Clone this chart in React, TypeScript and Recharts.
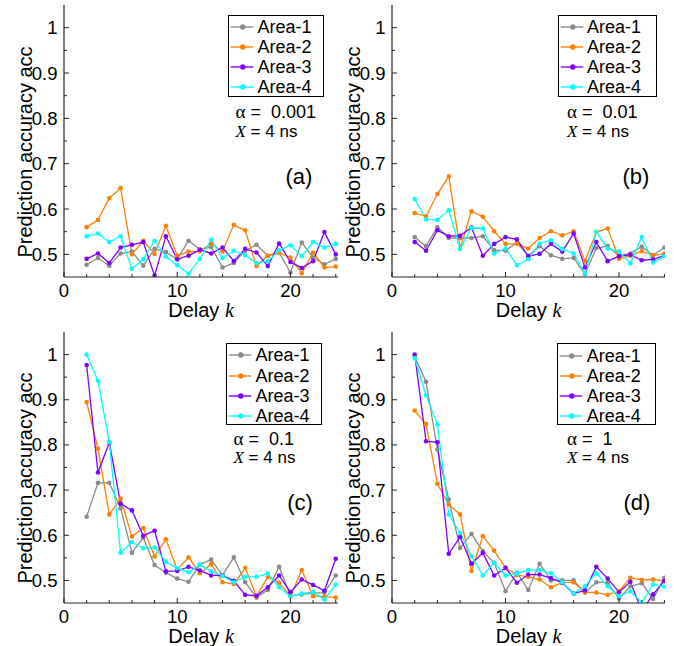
import React from 'react';
import { LineChart, Line, XAxis, YAxis, Legend } from 'recharts';

const delays = [2, 3, 4, 5, 6, 7, 8, 9, 10, 11, 12, 13, 14, 15, 16, 17, 18, 19, 20, 21, 22, 23, 24];
const seriesNames = ['Area-1', 'Area-2', 'Area-3', 'Area-4'];
const seriesColors = ['#8a8a8a', '#ff8000', '#8000ff', '#00ffff'];
const xTicks = [0, 2, 4, 6, 8, 10, 12, 14, 16, 18, 20, 22, 24];
const yTicks = [0.5, 0.55, 0.6, 0.65, 0.7, 0.75, 0.8, 0.85, 0.9, 0.95, 1.0];

// (a) alpha = 0.001
const a_area1 = [0.477, 0.492, 0.475, 0.502, 0.506, 0.475, 0.512, 0.505, 0.489, 0.530, 0.511, 0.516, 0.471, 0.481, 0.508, 0.521, 0.497, 0.504, 0.460, 0.526, 0.493, 0.478, 0.490];
const a_area2 = [0.560, 0.576, 0.624, 0.646, 0.500, 0.530, 0.501, 0.563, 0.497, 0.506, 0.507, 0.524, 0.506, 0.565, 0.553, 0.474, 0.497, 0.503, 0.493, 0.458, 0.504, 0.471, 0.473];
const a_area3 = [0.490, 0.502, 0.481, 0.515, 0.521, 0.527, 0.453, 0.540, 0.489, 0.497, 0.510, 0.502, 0.515, 0.485, 0.512, 0.504, 0.474, 0.524, 0.483, 0.470, 0.485, 0.549, 0.500];
const a_area4 = [0.540, 0.546, 0.527, 0.540, 0.468, 0.489, 0.530, 0.495, 0.476, 0.457, 0.490, 0.532, 0.492, 0.508, 0.498, 0.481, 0.485, 0.509, 0.520, 0.496, 0.527, 0.515, 0.523];

// (b) alpha = 0.01
const b_area1 = [0.538, 0.518, 0.560, 0.536, 0.536, 0.536, 0.540, 0.509, 0.508, 0.526, 0.497, 0.518, 0.498, 0.490, 0.492, 0.456, 0.514, 0.518, 0.497, 0.502, 0.517, 0.498, 0.515];
const b_area2 = [0.591, 0.584, 0.633, 0.672, 0.513, 0.595, 0.583, 0.551, 0.523, 0.523, 0.513, 0.536, 0.551, 0.542, 0.551, 0.485, 0.549, 0.557, 0.490, 0.497, 0.507, 0.498, 0.501];
const b_area3 = [0.527, 0.508, 0.553, 0.540, 0.541, 0.559, 0.497, 0.523, 0.538, 0.533, 0.496, 0.501, 0.523, 0.506, 0.546, 0.471, 0.527, 0.485, 0.496, 0.499, 0.487, 0.489, 0.497];
const b_area4 = [0.622, 0.577, 0.576, 0.597, 0.512, 0.558, 0.557, 0.502, 0.513, 0.476, 0.489, 0.524, 0.531, 0.512, 0.502, 0.458, 0.549, 0.513, 0.506, 0.480, 0.538, 0.482, 0.496];

// (c) alpha = 0.1
const c_area1 = [0.641, 0.716, 0.716, 0.660, 0.561, 0.595, 0.534, 0.517, 0.504, 0.497, 0.535, 0.546, 0.511, 0.551, 0.496, 0.462, 0.479, 0.530, 0.466, 0.469, 0.472, 0.473, 0.511];
const c_area2 = [0.895, 0.792, 0.646, 0.681, 0.597, 0.616, 0.553, 0.591, 0.524, 0.551, 0.516, 0.536, 0.496, 0.492, 0.528, 0.465, 0.508, 0.495, 0.465, 0.523, 0.465, 0.464, 0.462];
const c_area3 = [0.977, 0.739, 0.805, 0.670, 0.655, 0.599, 0.610, 0.520, 0.521, 0.530, 0.522, 0.511, 0.511, 0.499, 0.468, 0.466, 0.485, 0.511, 0.474, 0.502, 0.490, 0.477, 0.548];
const c_area4 = [1.000, 0.942, 0.806, 0.561, 0.585, 0.571, 0.573, 0.541, 0.527, 0.518, 0.535, 0.520, 0.510, 0.496, 0.508, 0.508, 0.515, 0.485, 0.465, 0.471, 0.474, 0.458, 0.491];

// (d) alpha = 1
const d_area1 = [0.995, 0.940, 0.790, 0.679, 0.572, 0.603, 0.565, 0.539, 0.476, 0.517, 0.479, 0.537, 0.500, 0.500, 0.500, 0.473, 0.496, 0.495, 0.460, 0.487, 0.494, 0.459, 0.506];
const d_area2 = [0.876, 0.846, 0.714, 0.668, 0.646, 0.521, 0.598, 0.566, 0.528, 0.512, 0.508, 0.502, 0.485, 0.495, 0.496, 0.474, 0.473, 0.468, 0.476, 0.506, 0.501, 0.502, 0.499];
const d_area3 = [1.000, 0.808, 0.806, 0.559, 0.596, 0.537, 0.561, 0.511, 0.528, 0.495, 0.513, 0.513, 0.505, 0.495, 0.471, 0.478, 0.530, 0.504, 0.474, 0.497, 0.432, 0.469, 0.499];
const d_area4 = [0.992, 0.910, 0.845, 0.646, 0.605, 0.554, 0.511, 0.539, 0.511, 0.515, 0.523, 0.523, 0.516, 0.496, 0.471, 0.487, 0.516, 0.487, 0.465, 0.476, 0.451, 0.491, 0.486];

const panelLabels = ['(a)', '(b)', '(c)', '(d)'];
const alphaValues = ['0.001', '0.01', '0.1', '1'];

const SANS = '"Liberation Sans", Arial, Helvetica, sans-serif';
const SERIF = '"Liberation Serif", "Times New Roman", serif';
const AXIS = '#222';

const panels = [
  { series: [a_area1, a_area2, a_area3, a_area4], x: 64, y: 5, w: 274, h: 272, xMax: 24.2, legW: 96, legX: 164, legY: 9.5, txtX: 171.5, lblX: 235 },
  { series: [b_area1, b_area2, b_area3, b_area4], x: 392, y: 5, w: 273, h: 272, xMax: 24.05, legW: 99, legX: 165.5, legY: 9.5, txtX: 175, lblX: 244 },
  { series: [c_area1, c_area2, c_area3, c_area4], x: 64, y: 331.5, w: 274, h: 271, xMax: 24.2, legW: 96, legX: 162, legY: 11.5, txtX: 169.5, lblX: 236 },
  { series: [d_area1, d_area2, d_area3, d_area4], x: 392, y: 331.5, w: 273, h: 271, xMax: 24.05, legW: 99, legX: 165.3, legY: 11.8, txtX: 175, lblX: 245 },
];

const ML = 4, YW = 60, MT = 10, MR = 6, XH = 30, MB = 20;

const BottomTick = (props: any) => {
  const { x, y, payload } = props;
  const v = payload.value;
  const major = v % 10 === 0;
  return (
    <g>
      <line x1={x} x2={x} y1={y} y2={y - (major ? 5 : 3)} stroke={AXIS} strokeWidth={1} />
      {major && (
        <text x={x} y={y + 19.5} textAnchor="middle" fontSize={18.5} fontFamily={SANS} fill="#000">{v}</text>
      )}
    </g>
  );
};
const TopTick = (props: any) => {
  const { x, y, payload } = props;
  const major = payload.value % 10 === 0;
  return <line x1={x} x2={x} y1={y} y2={y + (major ? 5 : 3)} stroke={AXIS} strokeWidth={1} />;
};
const LeftTick = (props: any) => {
  const { x, y, payload } = props;
  const v = payload.value;
  const major = Math.round(v * 100) % 10 === 0;
  return (
    <g>
      <line x1={x} x2={x + (major ? 5 : 3)} y1={y} y2={y} stroke={AXIS} strokeWidth={1} />
      {major && (
        <text x={x - 6.5} y={y + 6.5} textAnchor="end" fontSize={18.5} fontFamily={SANS} fill="#000">{v === 1 ? '1' : v.toFixed(1)}</text>
      )}
    </g>
  );
};
const RightTick = (props: any) => {
  const { x, y, payload } = props;
  const major = Math.round(payload.value * 100) % 10 === 0;
  return <line x1={x} x2={x - (major ? 5 : 3)} y1={y} y2={y} stroke={AXIS} strokeWidth={1} />;
};

const makeLegend = (w: number) => (props: any) => {
  const items = props.payload || [];
  return (
    <div style={{ width: w, height: 82, border: '1px solid #000', background: '#fff', boxSizing: 'border-box', paddingTop: 1.3, fontFamily: SANS, fontSize: 18, color: '#000' }}>
      {items.map((it: any) => (
        <div key={it.value} style={{ height: 20.2, display: 'flex', alignItems: 'center' }}>
          <svg width={28} height={20} style={{ display: 'block', flex: 'none' }}>
            <line x1={1.7} x2={24.3} y1={10} y2={10} stroke={it.color} strokeWidth={1.4} />
            <circle cx={13.8} cy={10} r={2.7} fill={it.color} />
          </svg>
          <span style={{ marginLeft: 0.5, lineHeight: '20px', whiteSpace: 'nowrap' }}>{it.value}</span>
        </div>
      ))}
    </div>
  );
};

function Panel({ p }: { p: any }) {
  const data = delays.map((k, i) => ({
    k,
    s0: p.series[0][i],
    s1: p.series[1][i],
    s2: p.series[2][i],
    s3: p.series[3][i],
  }));
  const left = p.x - ML - YW;
  const top = p.y - MT;
  const width = p.w + ML + YW + MR;
  const height = p.h + MT + XH + MB;
  return (
    <div style={{ position: 'absolute', left, top, width, height }}>
      <LineChart width={width} height={height} data={data} margin={{ top: MT, right: MR, bottom: MB, left: ML }}>
        <XAxis dataKey="k" type="number" domain={[0, p.xMax]} ticks={xTicks} interval={0} allowDataOverflow
          height={XH} tickSize={0} tickMargin={0} tickLine={false} tick={<BottomTick />} axisLine={{ stroke: AXIS, strokeWidth: 1.2 }} />
        <XAxis xAxisId="top" orientation="top" type="number" domain={[0, p.xMax]} ticks={xTicks} interval={0} allowDataOverflow
          height={0} tickSize={0} tickMargin={0} tickLine={false} tick={<TopTick />} axisLine={{ stroke: AXIS, strokeWidth: 1.2 }} />
        <YAxis type="number" domain={[0.45, 1.05]} ticks={yTicks} interval={0} allowDataOverflow
          width={YW} tickSize={0} tickMargin={0} tickLine={false} tick={<LeftTick />} axisLine={{ stroke: AXIS, strokeWidth: 1.2 }} />
        <YAxis yAxisId="right" orientation="right" type="number" domain={[0.45, 1.05]} ticks={yTicks} interval={0} allowDataOverflow
          width={0} tickSize={0} tickMargin={0} tickLine={false} tick={<RightTick />} axisLine={{ stroke: AXIS, strokeWidth: 1.2 }} />
        {seriesNames.map((name, si) => (
          <Line key={name} dataKey={'s' + si} name={name} stroke={seriesColors[si]} strokeWidth={1.3}
            dot={{ r: 2.3, fill: seriesColors[si], stroke: 'none' }} activeDot={false} isAnimationActive={false} />
        ))}
        <Legend layout="vertical" align="center" verticalAlign="middle" width={p.legW}
          wrapperStyle={{ position: 'absolute', left: ML + YW + p.legX, top: MT + p.legY, width: p.legW, height: 82 }}
          content={makeLegend(p.legW)} />
      </LineChart>
    </div>
  );
}

export default function App() {
  return (
    <div style={{ position: 'absolute', left: 0, top: 0, width: 674, height: 646, background: '#fff', overflow: 'hidden' }}>
      {panels.map((p, i) => <Panel key={i} p={p} />)}
      <svg width={674} height={646} style={{ position: 'absolute', left: 0, top: 0, pointerEvents: 'none' }}>
        {panels.map((p, i) => {
          const cx = p.x + p.w / 2;
          const cy = p.y + p.h / 2;
          const tx = p.x + p.txtX;
          return (
            <g key={i}>
              <text x={cx} y={p.y + p.h + 40} textAnchor="middle" fontSize={20} fontFamily={SANS} fill="#000" style={{ whiteSpace: 'pre' }}>
                <tspan>Delay </tspan><tspan fontFamily={SERIF} fontStyle="italic">k</tspan>
              </text>
              <text transform={`translate(${p.x - 32.5},${cy + 11}) rotate(-90)`} textAnchor="middle" fontSize={20} fontFamily={SANS} fill="#000">
                Prediction accuracy acc
              </text>
              <text x={tx} y={p.y + 113} fontSize={18} fontFamily={SANS} fill="#000" style={{ whiteSpace: 'pre' }}>
                <tspan fontFamily={SERIF} fontSize={19}>α</tspan><tspan>{' =  ' + alphaValues[i]}</tspan>
              </text>
              <text x={tx} y={p.y + 131.5} fontSize={17} fontFamily={SANS} fill="#000" style={{ whiteSpace: 'pre' }}>
                <tspan fontFamily={SERIF} fontStyle="italic">X</tspan><tspan>{' = 4 ns'}</tspan>
              </text>
              <text x={p.x + p.lblX} y={p.y + 178.5} textAnchor="middle" fontSize={22} fontFamily={SANS} fill="#000">
                {panelLabels[i]}
              </text>
            </g>
          );
        })}
      </svg>
    </div>
  );
}
